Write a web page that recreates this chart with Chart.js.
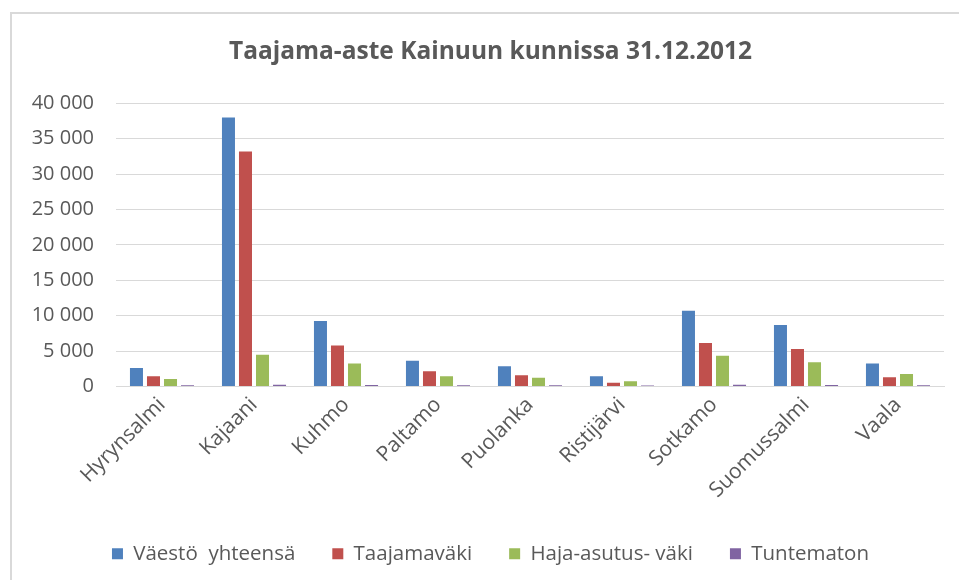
<!DOCTYPE html>
<html>
<head>
<meta charset="utf-8">
<script src="https://cdn.jsdelivr.net/npm/chart.js@4/dist/chart.umd.min.js"></script>
<style>
  html, body { margin: 0; padding: 0; background: #fff; overflow: hidden; }
  #frame { position: absolute; left: 10px; top: 12px; width: 1000px; height: 700px; border: 2px solid #d9d9d9; box-sizing: border-box; }
  #wrap { position: absolute; left: 0; top: 0; width: 959px; height: 580px; }
</style>
</head>
<body>
<div id="frame"></div>
<div id="wrap"><canvas id="c" width="959" height="580"></canvas></div>
<script>
const categories = ["Hyrynsalmi", "Kajaani", "Kuhmo", "Paltamo", "Puolanka", "Ristijärvi", "Sotkamo", "Suomussalmi", "Vaala"];
const vaestoYhteensa = [2600, 38000, 9270, 3630, 2870, 1450, 10700, 8700, 3250];
const taajamavaki = [1450, 33200, 5800, 2160, 1600, 540, 6150, 5290, 1300];
const hajaAsutusVaki = [1070, 4500, 3250, 1450, 1250, 740, 4340, 3440, 1780];
const tuntematon = [180, 260, 220, 170, 160, 130, 240, 210, 160];
const seriesNames = ["Väestö  yhteensä", "Taajamaväki", "Haja-asutus- väki", "Tuntematon"];
const titleText = "Taajama-aste Kainuun kunnissa 31.12.2012";

const FONT = "'Open Sans', Lato, sans-serif";
const colors = ["#4f81bd", "#c0504d", "#9bbb59", "#8064a2"];
const values = [vaestoYhteensa, taajamavaki, hajaAsutusVaki, tuntematon];

new Chart(document.getElementById("c"), {
  type: "bar",
  data: {
    labels: categories,
    datasets: values.map((v, i) => ({
      label: seriesNames[i],
      data: v,
      backgroundColor: colors[i],
      borderWidth: 0,
      categoryPercentage: 0.74,
      barPercentage: 0.765
    }))
  },
  options: {
    responsive: false,
    animation: false,
    devicePixelRatio: 1,
    layout: { padding: { left: 22, right: 0, top: 0, bottom: 6 } },
    plugins: {
      title: {
        display: true,
        text: titleText,
        color: "#595959",
        font: { family: FONT, size: 24.5, weight: "bold" },
        padding: { top: 37, bottom: 37 }
      },
      legend: {
        position: "bottom",
        labels: {
          color: "#595959",
          font: { family: FONT, size: 20.5 },
          boxWidth: 11,
          boxHeight: 11,
          padding: 37
        }
      },
      tooltip: { enabled: false }
    },
    scales: {
      x: {
        afterFit(scale) { scale.height = 120; },
        grid: { display: false, drawTicks: false },
        border: { display: true, color: "#d9d9d9" },
        ticks: {
          color: "#595959",
          font: { family: FONT, size: 21 },
          minRotation: 45,
          maxRotation: 45,
          padding: 6
        }
      },
      y: {
        min: 0,
        max: 40000,
        afterFit(scale) { scale.width = 94; },
        grid: { color: "#d9d9d9", drawTicks: false },
        border: { display: false },
        ticks: {
          stepSize: 5000,
          color: "#595959",
          font: { family: FONT, size: 20 },
          padding: 22,
          callback: (v) => String(v).replace(/\B(?=(\d{3})+(?!\d))/g, "\u00a0")
        }
      },
      yRight: {
        position: "right",
        display: true,
        afterFit(scale) { scale.width = 15; },
        grid: { display: false, drawTicks: false },
        border: { display: false },
        ticks: { display: false }
      }
    }
  }
});
</script>
</body>
</html>
